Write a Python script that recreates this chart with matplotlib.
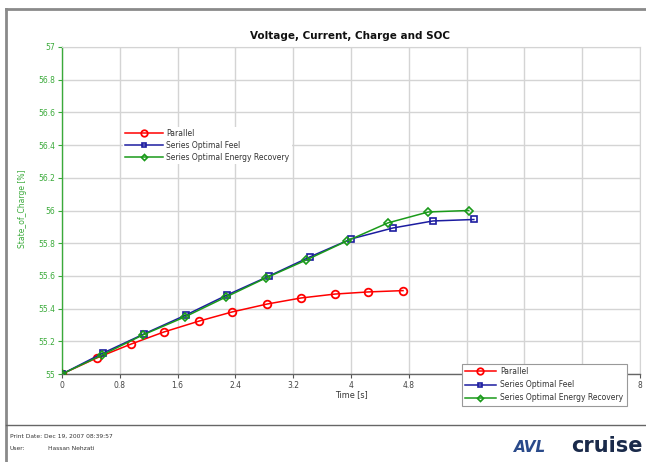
import matplotlib
matplotlib.use("Agg")
import matplotlib.pyplot as plt
from matplotlib.lines import Line2D

# ---- data ----
par_t = [0.0, 0.48, 0.955, 1.41, 1.90, 2.35, 2.84, 3.31, 3.78, 4.24, 4.72]
par_soc = [55.0, 55.098, 55.183, 55.257, 55.324, 55.379, 55.428, 55.465, 55.489, 55.502, 55.51]

feel_t = [0.0, 0.567, 1.135, 1.716, 2.284, 2.865, 3.43, 4.0, 4.58, 5.135, 5.70]
feel_soc = [55.0, 55.128, 55.245, 55.361, 55.483, 55.599, 55.716, 55.826, 55.893, 55.936, 55.945]

rec_t = [0.0, 0.554, 1.12, 1.70, 2.27, 2.82, 3.38, 3.94, 4.51, 5.07, 5.63]
rec_soc = [55.0, 55.116, 55.239, 55.349, 55.471, 55.587, 55.697, 55.813, 55.924, 55.991, 56.0]

series_names = ["Parallel", "Series Optimal Feel", "Series Optimal Energy Recovery"]
x_ticks = [0, 0.8, 1.6, 2.4, 3.2, 4, 4.8, 5.6, 6.4, 7.2, 8]
# labels 5.6 / 6.4 / 7.2 are hidden behind the lower legend in the original
x_ticklabels = ["0", "0.8", "1.6", "2.4", "3.2", "4", "4.8", "", "", "", "8"]
y_ticks = [55, 55.2, 55.4, 55.6, 55.8, 56, 56.2, 56.4, 56.6, 56.8, 57]
y_ticklabels = ["55", "55.2", "55.4", "55.6", "55.8", "56", "56.2", "56.4", "56.6", "56.8", "57"]

# ---- style ----
W, H = 646, 462
RED = "#ff0000"
BLUE = "#1c1ca0"
GREEN = "#1a9a1a"
YGREEN = "#3aaa3a"

plt.rcParams['font.family'] = ['DejaVu Sans']
fig = plt.figure(figsize=(W / 100, H / 100), dpi=100)
fig.patch.set_facecolor("white")

def fx(px):
    return px / W

def fy(py):
    return 1 - py / H

ax = fig.add_axes([fx(62), fy(374), fx(640) - fx(62), fy(47) - fy(374)])

styles = [
    dict(color=RED, marker="o", markersize=5.5, markerfacecolor="none", markeredgewidth=1.3, lw=1.1),
    dict(color=BLUE, marker="s", markersize=4.2, markerfacecolor="none", markeredgewidth=1.2, lw=1.1),
    dict(color=GREEN, marker="D", markersize=3.6, markerfacecolor="none", markeredgewidth=1.2, lw=1.1),
]
data = [(par_t, par_soc), (feel_t, feel_soc), (rec_t, rec_soc)]
for (t, s), st, name in zip(data, styles, series_names):
    ax.plot(t, s, label=name, zorder=3, **st)

ax.set_xlim(0, 8)
ax.set_ylim(55, 57)
ax.set_xticks(x_ticks)
ax.set_xticklabels(x_ticklabels)
ax.set_yticks(y_ticks)
ax.set_yticklabels(y_ticklabels)
ax.grid(True, color="#d4d4d4", lw=1.0, zorder=0)
ax.tick_params(axis="y", colors=YGREEN, labelsize=5.5, length=3, width=0.8, pad=2)
ax.tick_params(axis="x", colors="#555555", labelsize=5.5, length=3, width=0.8, pad=2)
for lab in ax.get_xticklabels():
    lab.set_color("#444444")
ax.spines["left"].set_color(YGREEN)
ax.spines["left"].set_linewidth(1.0)
ax.spines["bottom"].set_color("#666666")
ax.spines["bottom"].set_linewidth(1.0)
ax.spines["top"].set_color("#d4d4d4")
ax.spines["right"].set_color("#d4d4d4")

ax.set_xlabel("Time [s]", fontsize=5.8, color="#333333", labelpad=0)
fig.text(fx(23), fy(209), "State_of_Charge [%]", rotation=90, fontsize=5.5,
         color=YGREEN, ha="center", va="center")
fig.text(fx(350), fy(36), "Voltage, Current, Charge and SOC", fontsize=7.5,
         fontweight="bold", ha="center", va="center", color="#111111")

# legend 1 (no frame, inside)
handles, labels = ax.get_legend_handles_labels()
leg1 = ax.legend(handles, labels, loc="upper left",
                 bbox_to_anchor=(fx(119), fy(123)), bbox_transform=fig.transFigure,
                 frameon=True, fontsize=5.5, handlelength=4.9, handletextpad=0.5,
                 labelspacing=0.38, borderpad=0.3, framealpha=1, edgecolor="white",
                 fancybox=False, labelcolor="#333333", markerscale=0.85)
leg1.get_frame().set_linewidth(0)
ax.add_artist(leg1)

# legend 2 (framed, bottom right, overlapping axis)
leg2 = ax.legend(handles, labels, loc="upper left",
                 bbox_to_anchor=(fx(458), fy(360)), bbox_transform=fig.transFigure,
                 frameon=True, fontsize=5.5, handlelength=4.0, handletextpad=0.6,
                 labelspacing=0.55, borderpad=0.42, framealpha=1, edgecolor="#999999",
                 fancybox=False, labelcolor="#333333", markerscale=0.85)
leg2.get_frame().set_linewidth(0.8)
leg2.set_zorder(10)
leg2.set_clip_on(False)

# page decorations
fig.add_artist(Line2D([fx(6), fx(6)], [fy(9), 0], transform=fig.transFigure,
                      color="#8a8a8a", lw=2.0))
fig.add_artist(Line2D([fx(6), 1], [fy(9), fy(9)], transform=fig.transFigure,
                      color="#8a8a8a", lw=2.0))
fig.add_artist(Line2D([fx(6), 1], [fy(425), fy(425)], transform=fig.transFigure,
                      color="#666666", lw=1.0))

fig.text(fx(10), fy(436), "Print Date: Dec 19, 2007 08:39:57", fontsize=4.3,
         color="#333333", va="center")
fig.text(fx(10), fy(448), "User:", fontsize=4.3, color="#333333", va="center")
fig.text(fx(48), fy(448), "Hassan Nehzati", fontsize=4.3, color="#333333", va="center")

fig.text(fx(514), fy(447), "AVL", fontsize=11, fontweight="bold", fontstyle="italic",
         color="#2a4a8a", va="center", ha="left")
fig.text(fx(643), fy(446), "cruise", fontsize=15, fontweight="bold",
         color="#1a2a4a", va="center", ha="right")

fig.savefig("out.png", dpi=100)
